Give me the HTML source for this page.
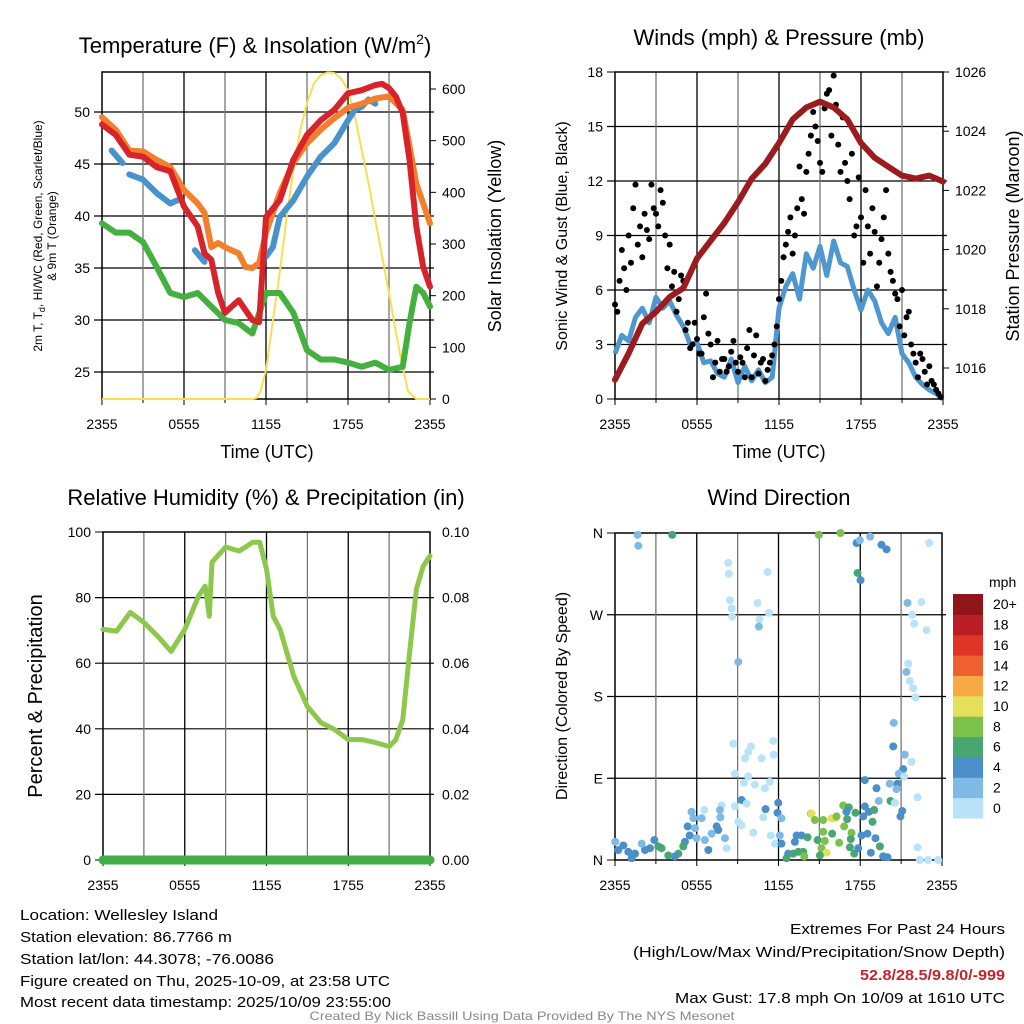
<!DOCTYPE html>
<html><head><meta charset="utf-8"><style>
html,body{margin:0;padding:0;background:#fff}
svg{display:block;font-family:"Liberation Sans",sans-serif}
</style></head><body>
<svg id="c" width="1024" height="1024" viewBox="0 0 1024 1024"></svg>
<script>
// ---------- DATA ----------
const hourTimes=[0,1,2,3,4,5,6,7,8,9,10,11,12,13,14,15,16,17,18,19,20,21,22,23,24];
const tempRedTimes=[0,1,2,3,4,5,6,7,7.5,8,8.5,9,10,11,11.5,12,13,14,15,16,17,18,19,20,20.5,21,21.5,22,22.5,23,23.5,24];
const tempRed=[48.8,47.8,45.9,45.7,44.7,44.3,40.9,39.0,36.4,35.8,32.6,30.7,31.9,30.0,29.8,39.9,41.5,45.4,47.8,49.2,50.2,51.8,52.1,52.6,52.7,52.3,51.5,49.9,45.4,39.0,35.1,33.2];
const tempOrangeTimes=[0,1,2,3,4,5,6,7,7.5,8,8.5,9,10,10.5,11,11.5,12,13,14,15,16,17,18,19,20,21,22,22.5,23,23.5,24];
const tempOrange=[49.5,48.3,46.3,46.2,45.4,44.7,42.5,41.2,40.3,37.0,37.4,37.0,36.4,35.1,35.0,35.5,38.4,42.2,45.1,47.0,48.3,49.4,50.4,50.8,51.3,51.5,50.2,46.7,43.1,41.2,39.3];
const tempBlueTimes=[0.7,1.5,null,2,3,4,5,5.5,null,6.8,7.5,null,12,12.5,13,14,15,16,17,18,18.5,19,19.5,20];
const tempBlue=[46.3,45.1,null,44.0,43.5,42.2,41.2,41.5,null,36.7,35.6,null,36.1,37.0,39.9,41.5,43.8,45.7,47.0,49.2,50.2,50.5,51.2,50.8];
const tempGreenTimes=[0,1,2,3,4,5,6,7,8,9,10,11,12,13,14,15,16,17,18,19,20,21,22,22.5,23,23.5,24];
const tempGreen=[39.3,38.4,38.4,37.5,35.1,32.6,32.2,32.6,31.3,30.0,29.7,28.7,32.6,32.6,30.7,27.1,26.2,26.2,25.9,25.5,25.9,25.2,25.5,29.7,33.2,32.6,31.3];
const solarTimes=[0,11,11.3,11.6,12,12.5,13,13.5,14,14.5,15,15.5,16,16.5,17,17.5,18,18.5,19,19.5,20,20.5,21,21.5,22,22.4,23,24];
const solar=[0,0,2,15,56,150,244,350,443,520,573,610,627,632,631,620,598,548,482,418,346,276,205,130,62,15,0,0];

const windTimes=[0,0.5,1,1.5,2,2.5,3,3.5,4,4.5,5,5.5,6,6.5,7,7.5,8,8.5,9,9.5,10,10.5,11,11.5,12,12.5,13,13.5,14,14.5,15,15.5,16,16.5,17,17.5,18,18.5,19,19.5,20,20.5,21,21.5,22,22.5,23,23.5,24];
const wind=[2.5,3.5,3.2,4.5,5.0,4.2,5.6,5.0,5.4,4.6,4.0,3.0,3.1,2.0,2.1,1.4,1.2,2.2,0.9,1.8,1.0,1.6,0.9,1.2,5.0,6.2,6.9,5.5,8.0,7.2,8.4,6.8,8.7,7.5,7.3,6.0,4.9,6.0,5.4,4.2,3.6,4.5,2.5,2.0,1.2,0.8,0.5,0.3,0];
const gustA=[5.2,6.5,7.2,9.0,10.5,8.5,7.8,9.3,11.8,10.2,11.5,9.0,8.5,7.0,5.5,6.5,4.2,3.0,3.3,2.5,5.8,3.0,2.0,1.5,2.2,1.8,3.2,1.5,2.0,2.8,1.2,3.5,2.0,1.0,2.0,3.0,5.5,7.8,9.2,8.0,10.5,11.0,12.5,14.5,15.0,13.0,16.0,17.0,17.8,14.0,15.5,12.0,13.5,9.5,10.0,11.5,8.0,9.2,7.5,10.0,8.0,6.5,5.5,6.0,4.5,3.0,2.0,2.5,1.5,1.8,0.8,0.3];
const gustB=[4.8,8.2,6.0,7.5,11.8,9.5,10.2,8.8,10.5,9.5,10.8,7.2,6.2,4.8,6.8,3.8,2.8,4.2,2.5,4.5,3.6,1.2,3.2,2.2,1.5,2.6,2.0,2.3,1.2,3.8,2.4,1.4,2.2,1.6,2.4,4.0,6.5,8.5,10.0,9.0,12.8,10.2,13.5,15.8,14.2,12.5,16.8,14.5,16.2,12.5,13.0,11.0,9.0,12.2,7.5,9.5,10.5,6.2,8.8,11.5,7.0,5.8,4.0,3.5,4.8,2.5,1.2,2.2,0.8,1.0,0.5,0.1];
const pressure=[1015.6,1016.5,1017.5,1017.9,1018.4,1018.7,1019.7,1020.3,1020.9,1021.6,1022.4,1022.9,1023.6,1024.4,1024.8,1025.0,1024.8,1024.4,1023.6,1023.1,1022.8,1022.5,1022.4,1022.5,1022.3];

const rhTimes=[0,1,2,3,4,5,6,7,7.5,7.8,8,9,10,11,11.5,12,12.5,13,14,15,16,17,18,19,20,21,21.5,22,22.5,23,23.5,24];
const rh=[70.3,69.8,75.5,72.4,68.3,63.6,70.3,80.4,83.5,74.3,90.8,95.4,94.2,96.9,96.9,88.7,74.3,70.3,56.0,46.8,41.9,39.8,36.7,36.7,35.8,34.6,36.7,42.8,63.3,82.6,89.6,92.7];
const precip=[0,0,0,0,0,0,0,0,0,0,0,0,0,0,0,0,0,0,0,0,0,0,0,0,0];

const dirTimes=[1.66,1.71,4.2,8.31,8.36,8.44,8.56,8.6,9.05,10.46,10.61,10.56,11.2,11.3,14.96,16.55,17.73,17.97,18.73,19.56,19.93,17.8,18.02,21.47,21.81,21.96,22.49,22.86,23.06,21.52,21.39,21.64,21.88,22.05,20.46,20.42,21.27,21.76,21.15,20.83,21.22,20.73,20.66,20.17,22.2,20.22,20.54,21.08,20.95,22.2,22.37,22.98,23.72,8.68,9.78,9.98,9.54,11.61,11.64,10.76,8.8,9.78,9.46,10.27,11.0,11.37,9.29,9.66,8.8,7.82,7.7,7.73,6.55,6.36,5.62,5.75,5.33,5.87,5.48,5.99,5.13,5.01,4.65,4.4,3.91,3.42,3.18,2.89,2.57,2.2,1.96,1.47,0.98,0.61,0.24,0.02,1.22,6.6,6.85,7.09,7.46,7.58,8.07,8.19,9.05,9.29,10.15,10.88,11.05,11.98,11.93,12.22,11.44,12.1,11.74,12.22,13.2,13.33,14.13,13.69,12.71,13.08,13.45,13.81,12.59,13.89,14.38,14.43,14.67,15.28,15.89,16.14,16.26,16.75,17.16,17.65,16.99,17.04,16.82,17.36,15.94,15.28,14.87,15.4,16.45,17.31,17.24,15.16,15.53,15.04,17.56,17.85,18.78,19.44,19.12,18.53,18.09,18.22,18.63,18.34,19.02,19.36,19.19,18.34,18.9,19.68,20.0];
const dirDeg=[358,346,358,327,315,286,277,268,218,283,265,257,317,272,358,360,349,352,356,347,342,316,308,283,270,260,284,253,349,216,207,197,189,179,151,125,116,108,100,95,92,84,78,84,69,65,63,54,48,14,0,0,0,128,119,125,112,131,116,112,95,92,85,83,79,86,66,62,59,60,55,47,55,46,53,46,37,35,27,24,20,15,7,4,5,13,15,22,13,11,18,7,9,16,11,20,2,22,11,29,37,33,24,13,42,38,30,47,56,63,52,46,27,27,18,18,20,27,25,27,7,7,9,9,2,4,51,51,44,44,46,46,48,60,58,52,53,45,37,30,29,31,22,21,19,23,14,13,8,5,7,13,8,15,24,29,27,48,53,59,55,65,79,88,42,4,3];
const dirSpeed=[3,3,7,1,1,1,1,1,3,1,1,3,1,1,9,9,5,3,3,5,5,7,5,3,1,1,1,1,1,1,3,1,1,1,3,5,3,1,5,3,1,5,3,3,1,7,1,5,5,1,1,1,1,1,1,1,1,1,1,1,1,1,1,1,1,1,5,1,1,1,3,3,1,3,3,3,5,3,5,3,5,7,7,5,7,7,7,5,5,5,3,5,5,5,5,3,5,3,5,3,5,5,3,1,1,1,1,1,5,5,5,3,1,3,1,5,5,5,7,5,5,7,7,7,7,9,9,11,9,9,11,11,9,9,7,7,5,7,9,9,7,9,7,9,9,7,7,9,11,7,7,5,5,7,5,5,5,5,5,5,7,3,5,5,7,5,5];

const cbLabels=["0","2","4","6","8","10","12","14","16","18","20+"];
const cbColors=["#b9e3f8","#7fbae6","#4a8fc7","#48a673","#7cc24a","#e5e05a","#f6a944","#ef6030","#df3428","#bb1d25","#8f1519"];
const tTicks=[25,30,35,40,45,50];
const sTicks=[0,100,200,300,400,500,600];
const wTicks=[0,3,6,9,12,15,18];
const pTicks=[1016,1018,1020,1022,1024,1026];
const rhTicks=[0,20,40,60,80,100];
const prTicks=["0.00","0.02","0.04","0.06","0.08","0.10"];
const dirTickLabels=["N","E","S","W","N"];
const xTickLabels=["2355","0555","1155","1755","2355"];

// ---------- HELPERS ----------
const NS="http://www.w3.org/2000/svg";
const svg=document.getElementById('c');
function el(tag,attrs,parent){const e=document.createElementNS(NS,tag);for(const k in attrs)e.setAttribute(k,attrs[k]);(parent||svg).appendChild(e);return e;}
function txt(s,x,y,size,anchor,parent,extra){const e=el('text',Object.assign({x:x,y:y,'font-size':size,'text-anchor':anchor||'middle',fill:'#000'},extra||{}),parent);e.textContent=s;return e;}
function lin(d0,d1,r0,r1){return v=>r0+(v-d0)*(r1-r0)/(d1-d0);}
function pathFrom(ts,vs,xf,yf){let d='',pen=false;for(let i=0;i<ts.length;i++){if(ts[i]===null||vs[i]===null){pen=false;continue;}d+=(pen?'L':'M')+xf(ts[i]).toFixed(1)+','+yf(vs[i]).toFixed(1);pen=true;}return d;}

function frame(g,L,R,T,B,xf){
  for(let h=3;h<24;h+=3){const l=el('line',{x1:xf(h),x2:xf(h),y1:T,y2:B,stroke:(h%6===0)?'#000':'#777','stroke-width':1.3},g);
    }
  const r=el('rect',{x:L,y:T,width:R-L,height:B-T,fill:'none',stroke:'#000','stroke-width':1.5},g);
  
  for(let i=0;i<5;i++){const h=i*6;const t=txt(xTickLabels[i],xf(h),B+30,14,'middle',g);
    
    el('line',{x1:xf(h),x2:xf(h),y1:B,y2:B+6,stroke:'#000','stroke-width':1},g);}
  for(let h=3;h<24;h+=6){el('line',{x1:xf(h),x2:xf(h),y1:B,y2:B+4,stroke:'#000','stroke-width':1},g);}
}
function hgrid(g,L,R,y){const l=el('line',{x1:L-8,x2:R+4,y1:y,y2:y,stroke:'#000','stroke-width':1.2},g);}

// ---------- PANEL 1: TEMPERATURE ----------
(function(){
  const g=el('g',{});
  const L=102,R=430,T=72,B=399;
  const x=lin(0,24,L,R), y=lin(25,50,372,112), ys=lin(0,600,399,89);
  tTicks.forEach(v=>{hgrid(g,L,R,y(v));const t=txt(String(v),L-12,y(v)+5,14,'end',g);});
  sTicks.forEach(v=>{el('line',{x1:R,x2:R+6,y1:ys(v),y2:ys(v),stroke:'#000'},g);const t=txt(String(v),R+12,ys(v)+5,14,'start',g);});
  frame(g,L,R,T,B,x);
  const sol=el('path',{d:pathFrom(solarTimes,solar,x,ys),fill:'none',stroke:'#f8df52','stroke-width':2,'stroke-linejoin':'round'},g);
  
  const ser=[['dewpoint-line',tempGreenTimes,tempGreen,'#44b040'],['heat-index-windchill-line',tempBlueTimes,tempBlue,'#4a92cc'],['temp-9m-line',tempOrangeTimes,tempOrange,'#f47e2b'],['temp-2m-line',tempRedTimes,tempRed,'#d7242a']];
  ser.forEach(s=>{const p=el('path',{d:pathFrom(s[1],s[2],x,y),fill:'none',stroke:s[3],'stroke-width':6,'stroke-linejoin':'round','stroke-linecap':'round'},g);
    });
  const ti=txt('Temperature (F) & Insolation (W/m',255,53,22,'middle',g);
  const sup=el('tspan',{dy:-9,'font-size':14},ti);sup.textContent='2';
  const cl=el('tspan',{dy:9},ti);cl.textContent=')';
  
  const xl=txt('Time (UTC)',267,458,18,'middle',g);
  const yl=el('text',{transform:'translate(42,236) rotate(-90)','font-size':12,'text-anchor':'middle'},g);
  
  const a=el('tspan',{x:0,y:0},yl);a.textContent='2m T, T';const sb=el('tspan',{'font-size':9,dy:3},yl);sb.textContent='d';
  const b=el('tspan',{dy:-3},yl);b.textContent=', HI/WC (Red, Green, Scarlet/Blue)';
  const c2=el('tspan',{x:0,y:14},yl);c2.textContent='& 9m T (Orange)';
  const yr=txt('Solar Insolation (Yellow)',0,0,18,'middle',g,{transform:'translate(501,236) rotate(-90)'});
  
})();

// ---------- PANEL 2: WINDS ----------
(function(){
  const g=el('g',{});
  const L=615,R=943,T=72,B=399;
  const x=lin(0,24,L,R), y=lin(0,18,B,T), yp=lin(1016,1026,368,72);
  wTicks.forEach(v=>{if(v>0&&v<18)hgrid(g,L,R,y(v));else el('line',{x1:L-8,x2:L,y1:y(v),y2:y(v),stroke:'#000'},g);
    const t=txt(String(v),L-12,y(v)+5,14,'end',g);});
  pTicks.forEach(v=>{el('line',{x1:R,x2:R+6,y1:yp(v),y2:yp(v),stroke:'#000'},g);const t=txt(String(v),R+12,yp(v)+5,14,'start',g);});
  frame(g,L,R,T,B,x);
  const wl=el('path',{d:pathFrom(windTimes,wind,x,y),fill:'none',stroke:'#4f97d0','stroke-width':5,'stroke-linejoin':'round'},g);
  
  [gustA,gustB].forEach((arr,k)=>{arr.forEach((v,i)=>{const h=i/3+k/6;
    const d=el('circle',{cx:x(h),cy:y(v),r:3,fill:'#000'},g);
    });});
  const pl=el('path',{d:pathFrom(hourTimes,pressure,x,yp),fill:'none',stroke:'#9b1b1e','stroke-width':6,'stroke-linejoin':'round','stroke-linecap':'round'},g);
  
  const ti=txt('Winds (mph) & Pressure (mb)',779,45,22,'middle',g);
  const xl=txt('Time (UTC)',779,458,18,'middle',g);
  const yl=txt('Sonic Wind & Gust (Blue, Black)',0,0,16,'middle',g,{transform:'translate(567,236) rotate(-90)'});
  const yr=txt('Station Pressure (Maroon)',0,0,18,'middle',g,{transform:'translate(1019,236) rotate(-90)'});
})();

// ---------- PANEL 3: RH ----------
(function(){
  const g=el('g',{});
  const L=103,R=430,T=532,B=860;
  const x=lin(0,24,L,R), y=lin(0,100,B,T), yq=lin(0,0.1,B,T);
  rhTicks.forEach((v,i)=>{if(v>0&&v<100)hgrid(g,L,R,y(v));else el('line',{x1:L-8,x2:L,y1:y(v),y2:y(v),stroke:'#000'},g);
    const t=txt(String(v),L-12,y(v)+5,14,'end',g);
    const t2=txt(prTicks[i],R+12,yq(parseFloat(prTicks[i]))+5,14,'start',g);});
  frame(g,L,R,T,B,x);
  const rl=el('path',{d:pathFrom(rhTimes,rh,x,y),fill:'none',stroke:'#8dc84d','stroke-width':5,'stroke-linejoin':'round','stroke-linecap':'round'},g);
  
  const pr=el('path',{d:pathFrom(hourTimes,precip,x,yq),fill:'none',stroke:'#41ad45','stroke-width':9,'stroke-linecap':'round'},g);
  
  const ti=txt('Relative Humidity (%) & Precipitation (in)',266,505,22,'middle',g);
  const yl=txt('Percent & Precipitation',0,0,20,'middle',g,{transform:'translate(42,696) rotate(-90)'});
})();

// ---------- PANEL 4: WIND DIRECTION ----------
(function(){
  const g=el('g',{});
  const L=615,R=942,T=533,B=860;
  const x=lin(0,24,L,R), y=lin(0,360,B,T);
  dirTickLabels.forEach((s,i)=>{const v=i*90;if(i>0&&i<4)hgrid(g,L,R,y(v));else el('line',{x1:L-8,x2:L,y1:y(v),y2:y(v),stroke:'#000'},g);
    const t=txt(s,L-12,y(v)+5,14,'end',g);});
  frame(g,L,R,T,B,x);
  dirTimes.forEach((h,i)=>{const si=Math.min(10,Math.floor(dirSpeed[i]/2));
    const d=el('circle',{cx:x(h),cy:y(dirDeg[i]),r:4,fill:cbColors[si]},g);
    });
  const ti=txt('Wind Direction',779,505,22,'middle',g);
  const yl=txt('Direction (Colored By Speed)',0,0,16,'middle',g,{transform:'translate(567,696) rotate(-90)'});
  const cb=el('g',{},g);
  const h0=(818-594)/11;
  cbColors.forEach((c,i)=>{const yy=818-(i+1)*h0;
    const r=el('rect',{x:953,y:yy,width:30,height:h0+0.5,fill:c},cb);
    
    const t=txt(cbLabels[i],993,yy+h0/2+5,14,'start',cb);});
  const m=txt('mph',989,587,14,'start',cb);
})();

// ---------- FOOTER ----------
(function(){
  const g=el('g',{});
  const left=[['Location: Wellesley Island',920,198],['Station elevation: 86.7766 m',942,212],['Station lat/lon: 44.3078; -76.0086',964,254],['Figure created on Thu, 2025-10-09, at 23:58 UTC',986,370],['Most recent data timestamp: 2025/10/09 23:55:00',1007,371]];
  left.forEach(a=>{const t=txt(a[0],20,a[1],15,'start',g,{textLength:a[2],lengthAdjust:'spacingAndGlyphs'});});
  const right=[['Extremes For Past 24 Hours',934,215,'#000','normal'],['(High/Low/Max Wind/Precipitation/Snow Depth)',957,372,'#000','normal'],['52.8/28.5/9.8/0/-999',980,145,'#c8232a','bold'],['Max Gust: 17.8 mph On 10/09 at 1610 UTC',1003,330,'#000','normal']];
  right.forEach(a=>{const t=txt(a[0],1005,a[1],15,'end',g,{textLength:a[2],lengthAdjust:'spacingAndGlyphs',fill:a[3],'font-weight':a[4]});});
  const cr=txt('Created By Nick Bassill Using Data Provided By The NYS Mesonet',522,1020,12,'middle',g,{fill:'#888',textLength:425,lengthAdjust:'spacingAndGlyphs'});
  
})();
</script>
</body></html>
